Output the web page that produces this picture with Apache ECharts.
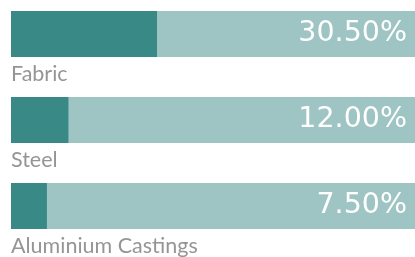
<!DOCTYPE html>
<html>
<head>
<meta charset="utf-8">
<script src="https://cdn.jsdelivr.net/npm/echarts@6/dist/echarts.min.js"></script>
<style>
  html, body { margin: 0; padding: 0; background: #fff; }
  #chart { width: 415px; height: 257px; }
</style>
</head>
<body>
<div id="chart"></div>
<script>
var categories = ['Fabric', 'Steel', 'Aluminium Castings'];
var shares = [30.5, 12.0, 7.5];
var scaleMax = 84.4;

var chart = echarts.init(document.getElementById('chart'));

var option = {
    animation: false,
    grid: { left: 11, right: 0, top: -9, height: 258, outerBoundsMode: 'none', containLabel: false },
    xAxis: {
        type: 'value',
        min: 0,
        max: scaleMax,
        show: false
    },
    yAxis: {
        type: 'category',
        inverse: true,
        data: categories,
        axisLine: { show: false },
        axisTick: { show: false },
        axisLabel: {
            inside: true,
            margin: 0,
            align: 'left',
            verticalAlign: 'top',
            padding: [29, 0, 0, 0],
            color: '#959595',
            fontFamily: 'Lato',
            fontSize: 21.5
        },
        z: 10
    },
    series: [
        {
            name: 'total',
            type: 'bar',
            barWidth: 46,
            silent: true,
            itemStyle: { color: '#9ec5c3' },
            data: categories.map(function () { return scaleMax; }),
            label: {
                show: true,
                position: 'insideRight',
                distance: 8,
                color: '#fff',
                fontFamily: 'DejaVu Sans',
                fontSize: 28.5,
                formatter: function (p) {
                    return shares[p.dataIndex].toFixed(2) + '%';
                }
            }
        },
        {
            name: 'share',
            type: 'bar',
            barWidth: 46,
            barGap: '-100%',
            itemStyle: { color: '#398986' },
            data: shares
        }
    ]
};

chart.setOption(option);
</script>
</body>
</html>
